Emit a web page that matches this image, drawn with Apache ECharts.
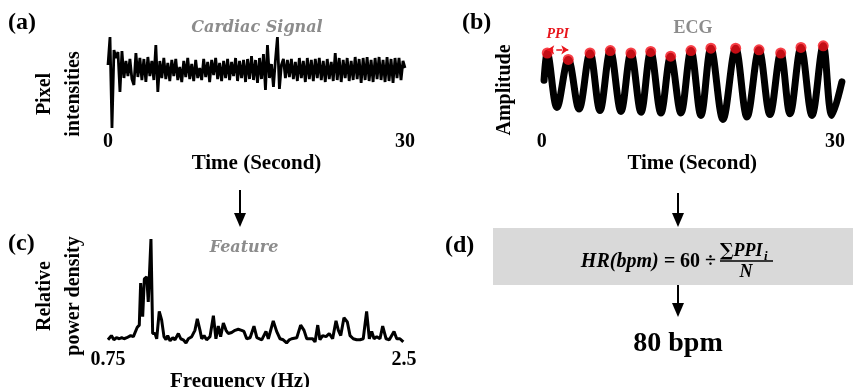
<!DOCTYPE html>
<html>
<head>
<meta charset="utf-8">
<script src="https://cdn.jsdelivr.net/npm/echarts@6/dist/echarts.min.js"></script>
<style>
  html, body {margin: 0; padding: 0; background: #fff;}
  #main {width: 853px; height: 387px;}
</style>
</head>
<body>
<div id="main"></div>
<script>
// (a) cardiac signal, evenly sampled over 30 s
const cardiacDuration = 30;
const cardiacSamples = [
  0.5, 3.3, -5.8, 2.0, 1.2, 1.8, -2.2, 1.9, -0.8, 0.9,
  -0.6, 1.1, -0.9, -1.5, 1.7, -0.7, 1.2, -1.0, 1.1, -1.2,
  1.3, -0.6, 0.9, -1.0, 2.5, -2.2, 0.9, -0.8, 1.2, -0.9,
  0.7, -1.1, 1.0, -0.6, 1.1, -1.0, 0.3, -1.2, 0.9, -0.7,
  1.2, -0.9, 0.6, -1.1, 1.0, -0.8, 0.2, -1.0, 1.1, -0.7,
  0.8, -1.2, 1.0, -0.5, 1.2, -0.9, 0.7, -1.1, 0.9, -0.8,
  1.1, -1.0, 0.8, -0.6, 1.2, -1.1, 0.9, -0.8, 1.0, -1.2,
  1.1, -0.9, 1.4, -1.0, 1.0, -1.3, 1.2, -0.9, 1.6, -2.0,
  2.5, -0.8, 0.6, -1.7, 1.0, 3.3, -1.9, 0.5, 1.1, -0.8,
  1.0, -0.7, 1.1, -0.9, 0.8, -1.1, 1.2, -0.8, 0.9, -1.2,
  1.2, -0.9, 1.0, -1.1, 1.1, -0.8, 1.2, -1.0, 0.9, -1.2,
  1.1, -0.9, 0.8, -1.1, 1.7, -1.0, 1.2, -1.2, 1.0, -0.8,
  1.2, -1.1, 0.9, -1.0, 1.3, -0.9, 1.1, -1.3, 1.2, -1.0,
  1.3, -1.1, 1.0, -1.2, 1.2, -0.9, 1.3, -1.0, 1.0, -1.2,
  1.3, -1.1, 1.1, -1.3, 1.2, -0.8, 1.2, -1.0, 0.9, 0.2
];

// (b) ECG: peaks (red dots) and troughs
const ecgStart = [0.24, 0.56];
const ecgEnd = [30.71, 0.54];
const ecgPeakTime = [0.57, 2.72, 4.94, 7.02, 9.13, 11.15, 13.19, 15.27, 17.31, 19.84, 22.23, 24.45, 26.52, 28.80];
const ecgPeakAmp = [0.90, 0.82, 0.90, 0.93, 0.90, 0.92, 0.86, 0.93, 0.96, 0.96, 0.94, 0.90, 0.97, 0.99];
const ecgTroughTime = [1.56, 3.82, 5.96, 8.11, 10.16, 12.20, 14.24, 16.29, 18.54, 21.00, 23.35, 25.40, 27.65, 29.69];
const ecgTroughAmp = [0.22, 0.20, 0.18, 0.17, 0.16, 0.15, 0.15, 0.12, 0.07, 0.10, 0.13, 0.14, 0.12, 0.12];
const ppiLevel = 0.94;

// (c) relative power density vs frequency (Hz)
const spectrum = [
  [0.75,0.04],[0.77,0.08],[0.785,0.04],[0.80,0.06],[0.817,0.05],[0.831,0.06],[0.845,0.05],[0.861,0.06],
  [0.87,0.05],[0.884,0.08],[0.90,0.07],[0.91,0.08],[0.923,0.16],[0.935,0.18],[0.943,0.58],[0.955,0.26],
  [0.965,0.62],[0.979,0.64],[0.988,0.40],[1.004,1.0],[1.014,0.10],[1.028,0.10],[1.038,0.05],[1.053,0.31],
  [1.067,0.23],[1.081,0.07],[1.093,0.04],[1.103,0.08],[1.117,0.03],[1.133,0.06],[1.146,0.04],[1.166,0.10],
  [1.18,0.05],[1.195,0.04],[1.211,0.01],[1.225,0.05],[1.245,0.07],[1.264,0.13],[1.278,0.24],[1.294,0.13],
  [1.304,0.05],[1.318,0.08],[1.333,0.04],[1.353,0.07],[1.373,0.27],[1.388,0.05],[1.402,0.17],[1.416,0.07],
  [1.432,0.20],[1.448,0.13],[1.461,0.10],[1.481,0.11],[1.501,0.13],[1.52,0.14],[1.54,0.13],[1.554,0.12],
  [1.57,0.05],[1.59,0.06],[1.613,0.17],[1.63,0.06],[1.659,0.04],[1.684,0.12],[1.698,0.05],[1.727,0.22],
  [1.747,0.12],[1.767,0.05],[1.786,0.04],[1.806,0.01],[1.822,0.04],[1.836,0.05],[1.866,0.06],[1.889,0.18],
  [1.909,0.13],[1.925,0.05],[1.944,0.05],[1.96,0.05],[1.974,0.02],[1.99,0.18],[2.003,0.04],[2.019,0.08],
  [2.039,0.07],[2.058,0.10],[2.078,0.05],[2.098,0.22],[2.112,0.13],[2.126,0.08],[2.145,0.25],[2.165,0.21],
  [2.181,0.08],[2.2,0.05],[2.22,0.04],[2.24,0.04],[2.259,0.05],[2.279,0.31],[2.295,0.05],[2.309,0.12],
  [2.323,0.05],[2.339,0.07],[2.358,0.05],[2.374,0.17],[2.394,0.05],[2.413,0.04],[2.441,0.12],[2.457,0.05],
  [2.476,0.05],[2.496,0.02]
];

const serif = 'Liberation Serif';
const gray = '#8c8c8c';

const cardiacData = cardiacSamples.map((v, i) => [i * cardiacDuration / (cardiacSamples.length - 1), v]);
const ecgData = [ecgStart];
ecgPeakTime.forEach((t, i) => {
  ecgData.push([t, ecgPeakAmp[i]]);
  ecgData.push([ecgTroughTime[i], ecgTroughAmp[i]]);
});
ecgData.push(ecgEnd);
const ecgPeaks = ecgPeakTime.map((t, i) => [t, ecgPeakAmp[i]]);

const labelStyle = {color: '#000', fontFamily: serif, fontWeight: 'bold', fontSize: 20};
const nameStyle = {color: '#000', fontFamily: serif, fontWeight: 'bold', fontSize: 21};

function xAxis(gridIndex, min, max, ticks, margin, name, gap, extra) {
  return Object.assign({
    gridIndex, type: 'value', min, max,
    axisLine: {show: false}, axisTick: {show: false}, splitLine: {show: false},
    axisLabel: Object.assign({customValues: ticks, margin}, labelStyle),
    name, nameLocation: 'middle', nameGap: gap,
    nameTextStyle: Object.assign({}, nameStyle)
  }, extra || {});
}
function yAxis(gridIndex, min, max) {
  return {gridIndex, type: 'value', min, max, show: false};
}
function text(x, y, str, font, fill, align, extra) {
  const a = align || 'center';
  return Object.assign({
    type: 'text', x, y,
    style: {text: str, font, fill: fill || '#000', align: a, verticalAlign: 'middle',
      textAlign: a, textVerticalAlign: 'middle', lineHeight: 29}
  }, extra || {});
}
function arrow(x, y1, y2) {
  return [
    {type: 'line', shape: {x1: x, y1: y1, x2: x, y2: y2 - 12}, style: {stroke: '#000', lineWidth: 2}},
    {type: 'polygon', shape: {points: [[x - 6, y2 - 14], [x + 6, y2 - 14], [x, y2]]}, style: {fill: '#000'}}
  ];
}

const letterFont = 'bold 24px "Liberation Serif"';
const axisTitleFont = 'bold 20px "Liberation Serif"';

const chart = echarts.init(document.getElementById('main'));
chart.setOption({
  animation: false,
  backgroundColor: '#fff',
  grid: [
    {left: 108, top: 35, width: 297, height: 95, containLabel: false, outerBoundsMode: 'none'},
    {left: 541.7, top: 45, width: 301.1, height: 80, containLabel: false, outerBoundsMode: 'none'},
    {left: 108, top: 239, width: 296, height: 105, containLabel: false, outerBoundsMode: 'none'}
  ],
  xAxis: [
    xAxis(0, 0, 30, [0, 30], 2, 'Time (Second)', 22),
    xAxis(1, 0, 30.8, [0, 30], 7, 'Time (Second)', 27),
    xAxis(2, 0.75, 2.5, [0.75, 2.5], 6, 'Frequency (Hz)', 25,
      {nameTextStyle: Object.assign({padding: [0, 32, 0, 0]}, nameStyle)})
  ],
  yAxis: [yAxis(0, -6, 3.5), yAxis(1, 0, 1), yAxis(2, 0, 1)],
  series: [
    {
      type: 'line', xAxisIndex: 0, yAxisIndex: 0, data: cardiacData,
      showSymbol: false, lineStyle: {color: '#000', width: 2.8}
    },
    {
      type: 'line', xAxisIndex: 1, yAxisIndex: 1, data: ecgData, smooth: 0.35,
      showSymbol: false, lineStyle: {color: '#000', width: 7, join: 'round', cap: 'round'},
      markLine: {
        silent: true,
        symbol: ['arrow', 'arrow'], symbolSize: 7,
        lineStyle: {color: '#e8141b', type: 'dashed', width: 1.5},
        label: {
          show: true, position: 'insideMiddleTop', distance: 8, formatter: 'PPI',
          color: '#e8141b', fontFamily: serif, fontStyle: 'italic', fontWeight: 'bold', fontSize: 14
        },
        data: [[{coord: [ecgPeakTime[0], ppiLevel]}, {coord: [ecgPeakTime[1], ppiLevel]}]]
      }
    },
    {
      type: 'scatter', xAxisIndex: 1, yAxisIndex: 1, data: ecgPeaks, z: 5,
      symbol: 'circle', symbolSize: 11, itemStyle: {color: '#f5101a'}
    },
    {
      type: 'line', xAxisIndex: 2, yAxisIndex: 2, data: spectrum,
      showSymbol: false, lineStyle: {color: '#000', width: 3}
    }
  ],
  graphic: {
    elements: [
      text(8, 23, '(a)', letterFont, '#000', 'left'),
      text(462, 23, '(b)', letterFont, '#000', 'left'),
      text(8, 244, '(c)', letterFont, '#000', 'left'),
      text(445, 246, '(d)', letterFont, '#000', 'left'),

      text(257, 28, 'Cardiac Signal', 'italic bold 16px "DejaVu Serif"', gray),
      text(693, 28, 'ECG', 'bold 18px "Liberation Serif"', gray),
      text(244, 248, 'Feature', 'italic bold 16px "DejaVu Serif"', gray),

      text(59, 94, 'Pixel\nintensities', axisTitleFont, '#000', 'center', {rotation: Math.PI / 2}),
      text(505, 90, 'Amplitude', axisTitleFont, '#000', 'center', {rotation: Math.PI / 2}),
      text(59, 296, 'Relative\npower density', axisTitleFont, '#000', 'center', {rotation: Math.PI / 2}),

      {type: 'rect', shape: {x: 493, y: 228, width: 360, height: 57}, style: {fill: '#d9d9d9'}},
      {
        type: 'text', x: 716, y: 262,
        style: {
          text: '{i|HR(bpm) = }{n|60 ÷}', fill: '#000', align: 'right', textAlign: 'right',
          verticalAlign: 'middle', textVerticalAlign: 'middle',
          rich: {
            i: {font: 'italic bold 20px "Liberation Serif"', fill: '#000'},
            n: {font: 'bold 20px "Liberation Serif"', fill: '#000'}
          }
        }
      },
      {
        type: 'text', x: 720, y: 251,
        style: {
          text: '{n|∑}{i|PPI}', fill: '#000', align: 'left', textAlign: 'left',
          verticalAlign: 'middle', textVerticalAlign: 'middle',
          rich: {
            i: {font: 'italic bold 18px "Liberation Serif"', fill: '#000'},
            n: {font: 'bold 18px "DejaVu Serif"', fill: '#000'}
          }
        }
      },
      {type: 'text', x: 764, y: 257, style: {text: 'i', font: 'italic bold 13px "Liberation Serif"', fill: '#000', align: 'left', textAlign: 'left', verticalAlign: 'middle', textVerticalAlign: 'middle'}},
      {type: 'line', shape: {x1: 720, y1: 261, x2: 773, y2: 261}, style: {stroke: '#000', lineWidth: 1.5}},
      text(746, 272, 'N', 'italic bold 18px "Liberation Serif"'),

      text(678, 344, '80 bpm', 'bold 28px "Liberation Serif"'),
      ...arrow(240, 190, 227),
      ...arrow(678, 193, 227),
      ...arrow(678, 285, 317)
    ]
  }
});
</script>
</body>
</html>
